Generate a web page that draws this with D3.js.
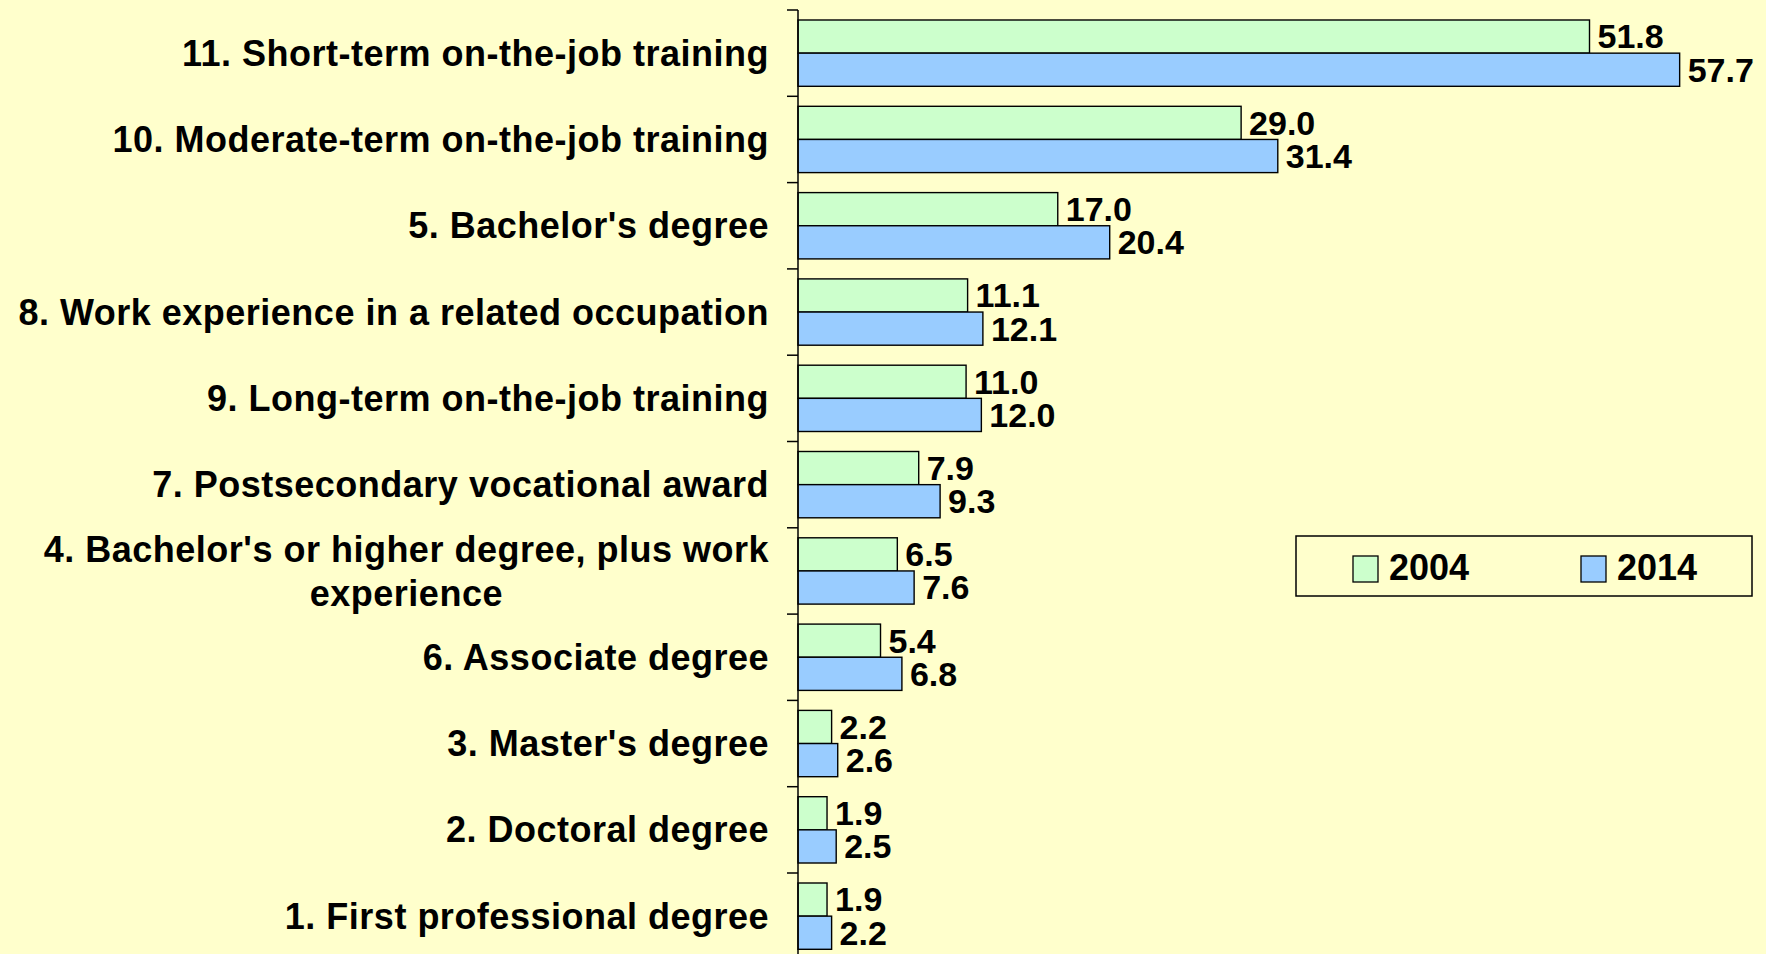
<!DOCTYPE html>
<html>
<head>
<meta charset="utf-8">
<script src="https://cdn.jsdelivr.net/npm/d3@7"></script>
<style>
  html, body { margin: 0; padding: 0; background: #FFFFCC; overflow: hidden; }
  svg { display: block; }
  text { font-family: "Liberation Sans", Arial, sans-serif; font-weight: bold; fill: #000; }
</style>
</head>
<body>
<svg id="chart" width="1766" height="954"></svg>
<script>
const categories = [
  ["11. Short-term on-the-job training"],
  ["10. Moderate-term on-the-job training"],
  ["5. Bachelor's degree"],
  ["8. Work experience in a related occupation"],
  ["9. Long-term on-the-job training"],
  ["7. Postsecondary vocational award"],
  ["4. Bachelor's or higher degree, plus work", "experience"],
  ["6. Associate degree"],
  ["3. Master's degree"],
  ["2. Doctoral degree"],
  ["1. First professional degree"]
];
const seriesNames = ["2004", "2014"];
const values2004 = [51.8, 29.0, 17.0, 11.1, 11.0, 7.9, 6.5, 5.4, 2.2, 1.9, 1.9];
const values2014 = [57.7, 31.4, 20.4, 12.1, 12.0, 9.3, 7.6, 6.8, 2.6, 2.5, 2.2];
const colors = ["#CCFFCC", "#99CCFF"];

const svg = d3.select("#chart");
const W = 1766, H = 954;
svg.append("rect").attr("width", W).attr("height", H).attr("fill", "#FFFFCC");

const axisX = 798;
const x = d3.scaleLinear().domain([0, 60]).range([axisX, axisX + 60 * 15.28]);
const y = d3.scaleBand().domain(d3.range(categories.length)).range([10, 10 + 11 * 86.3]).padding(0);
const step = y.step();
const y1 = d3.scaleBand().domain(seriesNames).range([10, step - 10]).padding(0);

const rows = categories.map((c, i) => ({ i, label: c, vals: [values2004[i], values2014[i]] }));

const g = svg.append("g");
const groups = g.selectAll("g.row").data(rows).join("g")
  .attr("class", "row")
  .attr("transform", d => `translate(0,${y(d.i)})`);

groups.selectAll("rect").data(d => d.vals.map((v, k) => ({ v, k }))).join("rect")
  .attr("x", x(0))
  .attr("y", d => y1(seriesNames[d.k]))
  .attr("width", d => x(d.v) - x(0))
  .attr("height", y1.bandwidth())
  .attr("fill", d => colors[d.k])
  .attr("stroke", "#000")
  .attr("stroke-width", 1.4);

groups.selectAll("text.val").data(d => d.vals.map((v, k) => ({ v, k }))).join("text")
  .attr("class", "val")
  .attr("x", d => x(d.v) + 8)
  .attr("y", d => y1(seriesNames[d.k]) + y1.bandwidth() / 2)
  .attr("dy", "0.35em")
  .attr("font-size", 34)
  .text(d => d.v.toFixed(1));

// Category labels
const labelX = 769;
rows.forEach(d => {
  const cy = y(d.i) + step / 2;
  const lines = d.label;
  const lh = 44;
  const first = g.append("text")
    .attr("x", labelX)
    .attr("y", cy - (lines.length - 1) * lh / 2)
    .attr("dy", "0.35em")
    .attr("text-anchor", "end")
    .attr("font-size", 36)
    .attr("letter-spacing", "0.5px")
    .text(lines[0]);
  if (lines.length > 1) {
    const w = first.node().getComputedTextLength();
    const center = labelX - w / 2;
    for (let j = 1; j < lines.length; j++) {
      g.append("text")
        .attr("x", center)
        .attr("y", cy - (lines.length - 1) * lh / 2 + j * lh)
        .attr("dy", "0.35em")
        .attr("text-anchor", "middle")
        .attr("font-size", 36)
        .attr("letter-spacing", "0.5px")
        .text(lines[j]);
    }
  }
});

// Axis line and ticks
g.append("line")
  .attr("x1", axisX).attr("x2", axisX)
  .attr("y1", y(0)).attr("y2", H + 10)
  .attr("stroke", "#000").attr("stroke-width", 1.5);
g.selectAll("line.tick").data(d3.range(categories.length + 1)).join("line")
  .attr("class", "tick")
  .attr("x1", axisX - 11).attr("x2", axisX)
  .attr("y1", i => y.range()[0] + i * step)
  .attr("y2", i => y.range()[0] + i * step)
  .attr("stroke", "#000").attr("stroke-width", 1.5);

// Legend
const lg = svg.append("g");
lg.append("rect")
  .attr("x", 1296).attr("y", 536).attr("width", 456).attr("height", 60)
  .attr("fill", "#FFFFCC").attr("stroke", "#000").attr("stroke-width", 1.5);
const legendX = [1353, 1581];
seriesNames.forEach((s, k) => {
  lg.append("rect")
    .attr("x", legendX[k]).attr("y", 556).attr("width", 25).attr("height", 26)
    .attr("fill", colors[k]).attr("stroke", "#000").attr("stroke-width", 1.3);
  lg.append("text")
    .attr("x", legendX[k] + 36).attr("y", 580)
    .attr("font-size", 36)
    .text(s);
});
</script>
</body>
</html>
